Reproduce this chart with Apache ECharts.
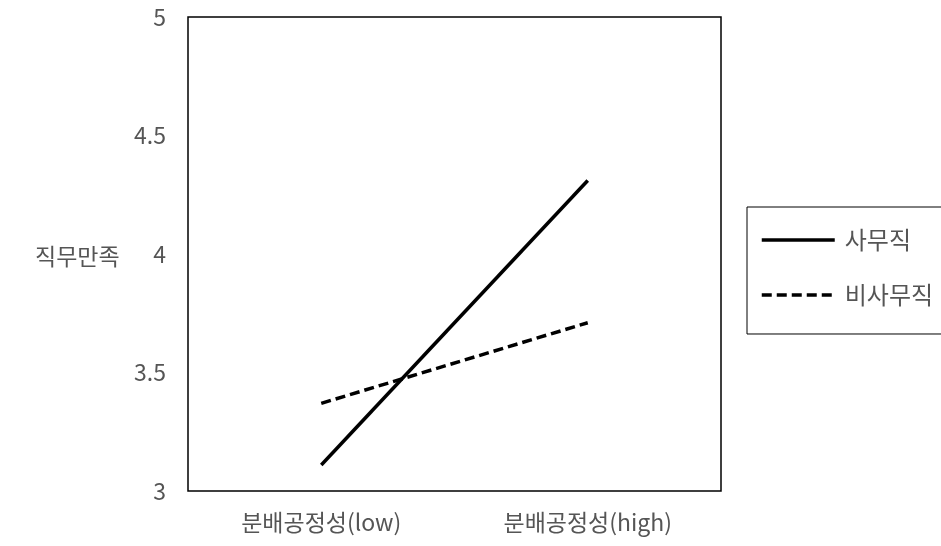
<!DOCTYPE html>
<html><head><meta charset="utf-8">
<script src="https://cdn.jsdelivr.net/npm/echarts@6/dist/echarts.min.js"></script>
<style>html,body{margin:0;padding:0;background:#fff}#c{width:941px;height:546px}</style>
</head><body><div id="c"></div>
<script>
const categories = ['분배공정성(low)', '분배공정성(high)'];
const seriesNames = ['사무직', '비사무직'];
const officeValues = [3.11, 4.31];
const nonOfficeValues = [3.37, 3.71];
const yTicks = [3, 3.5, 4, 4.5, 5];
const yTitle = '직무만족';

const FONT = '"Noto Sans CJK KR", "Noto Sans", sans-serif';
const GRAY = '#555555';
const chart = echarts.init(document.getElementById('c'), null, {renderer: 'canvas'});
chart.setOption({
  backgroundColor: '#fff',
  animation: false,
  textStyle: {fontFamily: FONT},
  grid: {left: 188, top: 17, right: 220, bottom: 55, show: true, borderColor: '#000', borderWidth: 1.5, backgroundColor: 'transparent'},
  graphic: [{type: 'text', left: 35, top: 245, style: {text: yTitle, fill: GRAY, font: '23px ' + FONT}}],
  legend: {
    orient: 'vertical', left: 747, top: 207,
    padding: [21, 40, 27, 13],
    itemGap: 31, itemWidth: 73, itemHeight: 14,
    borderColor: '#000', borderWidth: 1,
    itemStyle: {opacity: 0},
    lineStyle: {width: 3.5},
    textStyle: {color: GRAY, fontSize: 24, fontFamily: FONT, padding: [0, 0, 0, 5]},
    data: seriesNames
  },
  xAxis: {
    type: 'category', data: categories, boundaryGap: true,
    axisLine: {show: false}, axisTick: {show: false}, splitLine: {show: false},
    axisLabel: {color: GRAY, fontSize: 23, margin: 20, fontFamily: FONT}
  },
  yAxis: {
    type: 'value', min: yTicks[0], max: yTicks[yTicks.length - 1], interval: 0.5,
    axisLine: {show: false}, axisTick: {show: false}, splitLine: {show: false},
    axisLabel: {color: GRAY, fontSize: 23, margin: 22, fontFamily: FONT}
  },
  series: [
    {name: seriesNames[0], type: 'line', data: officeValues, symbol: 'none',
     lineStyle: {color: '#000', width: 3.5}, itemStyle: {color: '#000'}},
    {name: seriesNames[1], type: 'line', data: nonOfficeValues, symbol: 'none',
     lineStyle: {color: '#000', width: 3.5, type: [10, 5]}, itemStyle: {color: '#000'}}
  ]
});
</script></body></html>
